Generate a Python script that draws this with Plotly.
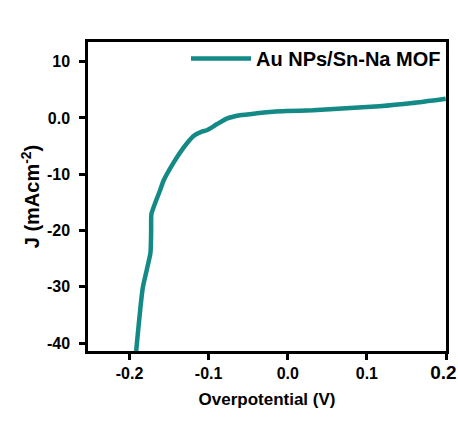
import plotly.graph_objects as go

series_name = "Au NPs/Sn-Na MOF"
overpotential = [-0.1916, -0.1833, -0.1736, -0.1727, -0.1723, -0.1610, -0.1572, -0.1443,
                 -0.1317, -0.1191, -0.1086, -0.1023, -0.0897, -0.0771, -0.0604, -0.0394,
                 -0.0185, -0.0016, 0.0318, 0.0738, 0.1157, 0.1576, 0.1996]
current_density = [-41.4, -30.2, -24.0, -20.1, -17.05, -12.7, -11.2, -7.94,
                   -5.28, -3.20, -2.43, -2.18, -1.12, -0.12, 0.48, 0.83,
                   1.12, 1.24, 1.37, 1.72, 2.08, 2.66, 3.43]

x_tickvals = [-0.2, -0.1, 0.0, 0.1, 0.2]
x_ticktext = ["-0.2", "-0.1", "0.0", "0.1", "<span style='font-size:19px'>0.2&nbsp;</span>"]
y_tickvals = [10, 0, -10, -20, -30, -40]
y_ticktext = ["10", "0.0", "-10", "-20", "-30", "-40"]

fig = go.Figure()
fig.add_trace(go.Scatter(
    x=overpotential, y=current_density, mode="lines", name=series_name,
    line=dict(color="#138a85", width=4.5, shape="spline", smoothing=0.5),
))

font_family = "Liberation Sans, Arial, sans-serif"
fig.update_layout(
    width=458, height=425,
    margin=dict(l=88, r=12, t=42, b=74),
    paper_bgcolor="white", plot_bgcolor="white",
    font=dict(family=font_family, color="black"),
    showlegend=True,
    legend=dict(x=1.0, y=1.01, xanchor="right", yanchor="top",
                bgcolor="rgba(0,0,0,0)", itemwidth=60,
                font=dict(size=20, family=font_family, weight="bold"),
                tracegroupgap=0),
    xaxis=dict(
        range=[-0.2525, 0.2], tickvals=x_tickvals, ticktext=x_ticktext,
        showline=True, linecolor="black", linewidth=2.5, mirror=True,
        ticks="outside", ticklen=6, tickwidth=2.5, tickcolor="black",
        showgrid=False, zeroline=False, automargin=False,
        ticklabeloverflow="allow",
        tickfont=dict(size=16, weight="bold"),
        title=dict(text="Overpotential (V)", font=dict(size=17, weight="bold"), standoff=12),
    ),
    yaxis=dict(
        range=[-41.4, 13.5], tickvals=y_tickvals, ticktext=y_ticktext,
        showline=True, linecolor="black", linewidth=2.5, mirror=True,
        ticks="outside", ticklen=6, tickwidth=2.5, tickcolor="black",
        showgrid=False, zeroline=False, automargin=False,
        ticklabelstandoff=6, ticklabeloverflow="allow",
        tickfont=dict(size=16, weight="bold"),
        title=dict(text="J (mAcm<sup>-2</sup>)", font=dict(size=20, weight="bold"), standoff=2),
    ),
)

fig.write_html("out.html", config={"displayModeBar": False},
               post_script="document.body.style.margin='0';document.body.style.overflow='hidden';")
